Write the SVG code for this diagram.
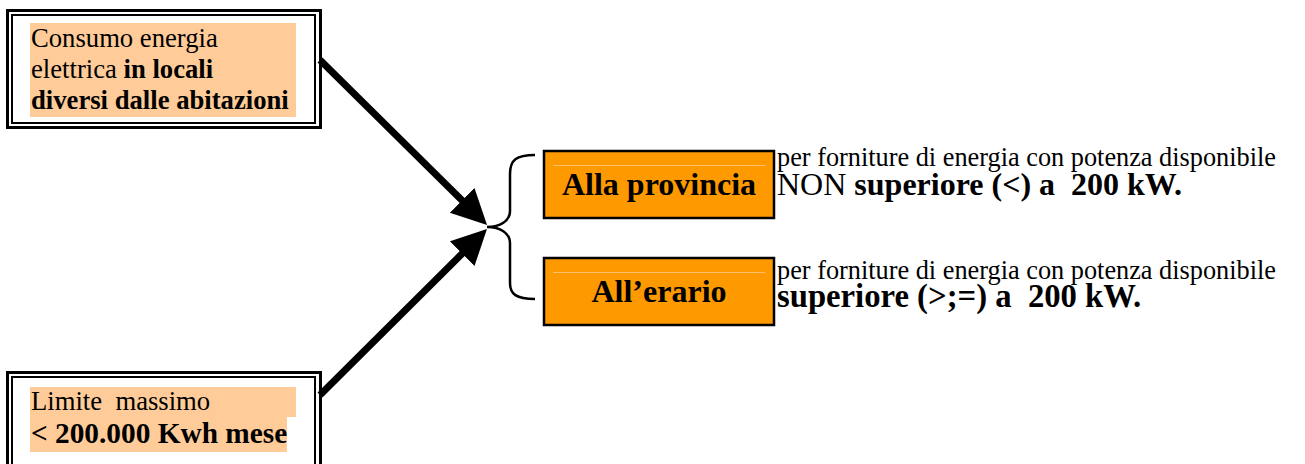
<svg xmlns="http://www.w3.org/2000/svg" width="1305" height="464" viewBox="0 0 1305 464">
<style>
.outer{fill:none;stroke:#000;stroke-width:3}
.inner{fill:none;stroke:#000;stroke-width:2}
.hl{fill:#FFCC99}
.t{font-family:"Liberation Serif","DejaVu Serif",serif;fill:#000}
.b{font-weight:700}
.obox{fill:#FF9900;stroke:#000;stroke-width:2.5}
.faint{stroke:#FFC06A;stroke-width:1}
.conn{fill:none;stroke:#000;stroke-width:7}
.brace{fill:none;stroke:#000;stroke-width:2.5}
</style>
<defs>
<marker id="ah" markerUnits="userSpaceOnUse" markerWidth="40" markerHeight="40" refX="5" refY="17.5" orient="auto">
<path d="M0,0 L35,17.5 L0,35 z" fill="#000"/>
</marker>
</defs>
<rect width="1305" height="464" fill="#fff"/>
<g id="consumo">
<rect class="outer" x="7.5" y="10.5" width="313" height="117"/>
<rect class="inner" x="12" y="15" width="303" height="108"/>
<rect class="hl" x="30" y="23" width="266" height="94"/>
<text class="t" font-size="26.67" x="31" y="47">Consumo energia</text>
<text class="t" font-size="26.67" x="31" y="78">elettrica <tspan class="b">in locali</tspan></text>
<text class="t b" font-size="26.67" x="31" y="109">diversi dalle abitazioni</text>
</g>
<g id="limite">
<rect class="outer" x="7.5" y="372.5" width="313" height="100"/>
<rect class="inner" x="12" y="377" width="303" height="100"/>
<rect class="hl" x="30" y="387" width="266" height="30"/>
<rect class="hl" x="30" y="417" width="257" height="35"/>
<text class="t" font-size="26.67" x="31" y="410" xml:space="preserve">Limite  massimo</text>
<text class="t b" font-size="29.33" x="31" y="443">&lt; 200.000 Kwh mese</text>
</g>
<g id="connectors">
<line class="conn" x1="320" y1="60" x2="465.7" y2="203.9" marker-end="url(#ah)"/>
<line class="conn" x1="320" y1="395" x2="465.7" y2="250.1" marker-end="url(#ah)"/>
<path class="brace" d="M535,155 C516,155 510,160 510,174 L510,211 C510,221 500,227 487,227 C500,227 510,233 510,243 L510,283 C510,294 516,299 535,299"/>
</g>
<g id="provincia">
<rect class="obox" x="544" y="151" width="230" height="67"/>
<line class="faint" x1="553" y1="165.5" x2="765" y2="165.5"/>
<text class="t b" font-size="32" x="659" y="195" text-anchor="middle">Alla provincia</text>
</g>
<g id="erario">
<rect class="obox" x="544" y="258" width="230" height="67"/>
<line class="faint" x1="553" y1="272.5" x2="765" y2="272.5"/>
<text class="t b" font-size="32" x="659" y="302" text-anchor="middle">All’erario</text>
</g>
<g id="nota-provincia">
<text class="t" font-size="26.3" x="777" y="166">per forniture di energia con potenza disponibile</text>
<text class="t" font-size="32" x="777" y="195" xml:space="preserve">NON <tspan class="b">superiore (&lt;) a  200 kW.</tspan></text>
</g>
<g id="nota-erario">
<text class="t" font-size="26.3" x="777" y="279">per forniture di energia con potenza disponibile</text>
<text class="t b" font-size="32.7" x="777" y="307" xml:space="preserve">superiore (&gt;;=) a  200 kW.</text>
</g>
</svg>
